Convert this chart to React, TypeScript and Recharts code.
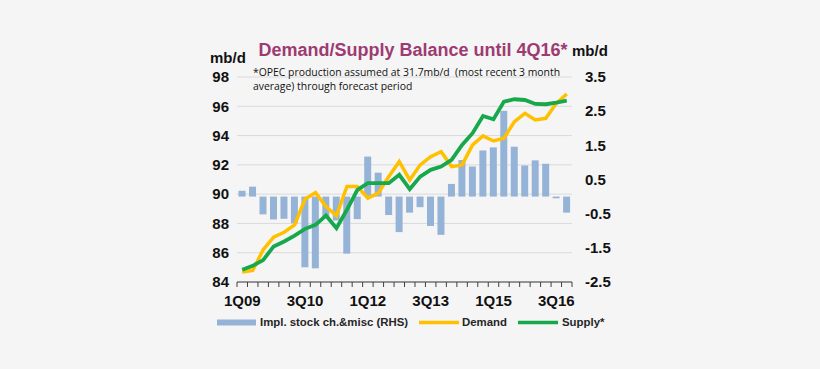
import {
  ComposedChart,
  Bar,
  Line,
  XAxis,
  YAxis,
  CartesianGrid,
} from "recharts";

const quarters = [
  "1Q09", "2Q09", "3Q09", "4Q09",
  "1Q10", "2Q10", "3Q10", "4Q10",
  "1Q11", "2Q11", "3Q11", "4Q11",
  "1Q12", "2Q12", "3Q12", "4Q12",
  "1Q13", "2Q13", "3Q13", "4Q13",
  "1Q14", "2Q14", "3Q14", "4Q14",
  "1Q15", "2Q15", "3Q15", "4Q15",
  "1Q16", "2Q16", "3Q16", "4Q16",
];

// implied stock change & misc (RHS, mb/d)
const stockChange = [
  0.17, 0.29, -0.52, -0.67, -0.65, -0.78, -2.07, -2.1,
  -0.6, -0.7, -1.67, -0.66, 1.17, 0.7, -0.54, -1.04,
  -0.47, -0.31, -0.86, -1.12, 0.37, 1.07, 0.88, 1.35,
  1.44, 2.51, 1.46, 0.91, 1.06, 0.96, -0.05, -0.47,
];

const demand = [
  84.68, 84.79, 86.2, 87.07, 87.4, 87.9, 89.66, 90.1,
  89.15, 88.52, 90.52, 90.52, 89.73, 90.07, 91.2, 92.22,
  90.97, 92.0, 92.56, 92.9, 91.88, 92.0, 93.36, 93.98,
  93.63, 93.82, 94.95, 95.52, 95.07, 95.18, 96.2, 96.84,
];

const supply = [
  84.83, 85.1, 85.5, 86.43, 86.77, 87.17, 87.63, 87.9,
  88.54, 87.68, 88.93, 90.29, 90.75, 90.75, 90.75, 91.32,
  90.34, 91.2, 91.66, 91.88, 92.34, 93.36, 94.16, 95.34,
  95.11, 96.32, 96.48, 96.43, 96.16, 96.14, 96.25, 96.38,
];

const leftTicks = [84, 86, 88, 90, 92, 94, 96, 98];
const rightTicks = [-2.5, -1.5, -0.5, 0.5, 1.5, 2.5, 3.5];

const data = quarters.map((q, i) => ({
  q,
  stock: stockChange[i],
  demand: demand[i],
  supply: supply[i],
}));

const W = 820;
const H = 369;
const PLOT_LEFT = 237;
const PLOT_RIGHT = 572;
const BAND = (PLOT_RIGHT - PLOT_LEFT) / quarters.length;

const FONT = "'Liberation Sans', Arial, sans-serif";
const NOTE_FONT = "'Open Sans', 'Noto Sans', sans-serif";
const BLUE = "#95b3d7";
const YELLOW = "#ffc000";
const GREEN = "#17a84b";

const QuarterTick = (props: any) => {
  const { x, y, payload, index } = props;
  const last = index === quarters.length - 1;
  return (
    <g>
      <line x1={x - BAND / 2} x2={x - BAND / 2} y1={y} y2={y + 5} stroke="#404040" />
      {last && (
        <line x1={x + BAND / 2} x2={x + BAND / 2} y1={y} y2={y + 5} stroke="#404040" />
      )}
      {index % 6 === 0 && (
        <text
          x={x}
          y={y + 24}
          textAnchor="middle"
          fontFamily={FONT}
          fontWeight="bold"
          fontSize={15}
          fill="#111"
        >
          {payload.value}
        </text>
      )}
    </g>
  );
};

export default function App() {
  return (
    <div style={{ position: "relative", width: W, height: H, background: "#f5f5f5" }}>
      <style>{"body{margin:0;background:#f5f5f5}"}</style>
      <ComposedChart
        width={W}
        height={H}
        data={data}
        margin={{ top: 77, right: 200, bottom: 57, left: 197 }}
        barCategoryGap="15%"
      >
        <CartesianGrid yAxisId="l" vertical={false} stroke="#dadada" />
        <XAxis
          dataKey="q"
          interval={0}
          height={30}
          tickSize={0}
          tickMargin={0}
          tickLine={false}
          axisLine={{ stroke: "#404040" }}
          tick={<QuarterTick />}
        />
        <YAxis
          yAxisId="l"
          orientation="left"
          width={40}
          domain={[84, 98]}
          ticks={leftTicks}
          axisLine={false}
          tickLine={false}
          tick={{ fontFamily: FONT, fontWeight: "bold", fontSize: 15, fill: "#111" }}
        />
        <YAxis
          yAxisId="r"
          orientation="right"
          width={48}
          domain={[-2.5, 3.5]}
          ticks={rightTicks}
          axisLine={false}
          tickLine={false}
          tickMargin={7}
          tickFormatter={(v: number) => v.toFixed(1)}
          tick={{ fontFamily: FONT, fontWeight: "bold", fontSize: 15, fill: "#111" }}
        />
        <Bar yAxisId="r" dataKey="stock" fill={BLUE} isAnimationActive={false} />
        <Line
          yAxisId="l"
          type="linear"
          dataKey="demand"
          stroke={YELLOW}
          strokeWidth={3.5}
          dot={false}
          isAnimationActive={false}
        />
        <Line
          yAxisId="l"
          type="linear"
          dataKey="supply"
          stroke={GREEN}
          strokeWidth={3.8}
          dot={false}
          isAnimationActive={false}
        />
      </ComposedChart>

      <svg
        width={W}
        height={H}
        style={{ position: "absolute", left: 0, top: 0, pointerEvents: "none" }}
      >
        <text x={413} y={56} textAnchor="middle" fontFamily={FONT} fontWeight="bold" fontSize={18} fill="#9e3a72">
          Demand/Supply Balance until 4Q16*
        </text>
        <text x={210} y={63} fontFamily={FONT} fontWeight="bold" fontSize={15} fill="#111">
          mb/d
        </text>
        <text x={572} y={56} fontFamily={FONT} fontWeight="bold" fontSize={15} fill="#111">
          mb/d
        </text>
        <text x={253} y={76} fontFamily={NOTE_FONT} fontSize={10.4} fill="#111" style={{ whiteSpace: "pre" }}>
          {"*OPEC production assumed at 31.7mb/d  (most recent 3 month"}
        </text>
        <text x={253} y={89.5} fontFamily={NOTE_FONT} fontSize={10.4} fill="#111">
          average) through forecast period
        </text>

        <rect x={217} y={319.5} width={39} height={6} fill={BLUE} />
        <text x={260} y={326} fontFamily={FONT} fontWeight="bold" fontSize={11.4} fill="#262626">
          Impl. stock ch.&amp;misc (RHS)
        </text>
        <line x1={419} x2={459} y1={322.5} y2={322.5} stroke={YELLOW} strokeWidth={3.5} />
        <text x={462} y={326} fontFamily={FONT} fontWeight="bold" fontSize={11.4} fill="#262626">
          Demand
        </text>
        <line x1={518} x2={558} y1={322.5} y2={322.5} stroke={GREEN} strokeWidth={3.5} />
        <text x={562} y={326} fontFamily={FONT} fontWeight="bold" fontSize={11.4} fill="#262626">
          Supply*
        </text>
      </svg>
    </div>
  );
}
